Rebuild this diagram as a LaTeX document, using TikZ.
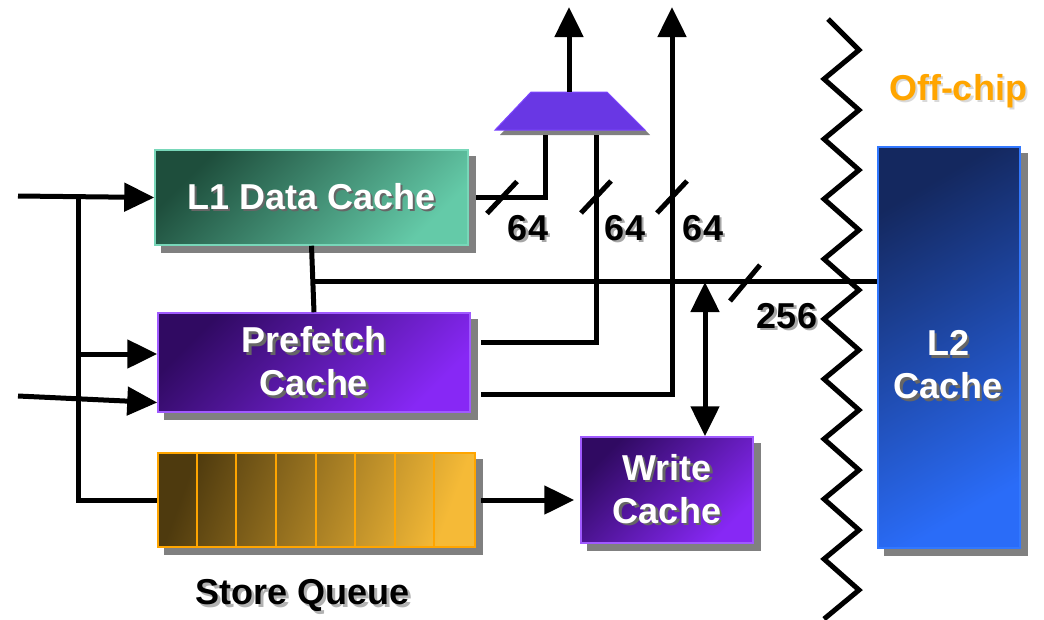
\documentclass[tikz,border=0pt]{standalone}
\usepackage{fontspec}
\setmainfont{Liberation Sans}
\usepackage{xcolor}
\usepackage{tikz}
\usetikzlibrary{arrows.meta,backgrounds}
\definecolor{l1dark}{RGB}{30,78,60}
\definecolor{l1light}{RGB}{100,202,168}
\definecolor{l1edge}{RGB}{120,215,185}
\definecolor{pfdark}{RGB}{48,10,98}
\definecolor{pflight}{RGB}{135,40,245}
\definecolor{pfedge}{RGB}{160,90,255}
\definecolor{sqdark}{RGB}{78,58,14}
\definecolor{sqlight}{RGB}{245,186,55}
\definecolor{sqedge}{RGB}{255,165,0}
\definecolor{l2dark}{RGB}{20,40,95}
\definecolor{l2light}{RGB}{42,108,248}
\definecolor{l2edge}{RGB}{50,120,255}
\definecolor{muxfill}{RGB}{105,55,228}
\definecolor{muxedge}{RGB}{125,70,255}
\definecolor{offchip}{RGB}{255,165,0}
% text with a small offset shadow
\newcommand\shd[2][black!60]{\leavevmode\rlap{\kern2.5pt\raisebox{-2.5pt}{\color{#1}#2}}#2}

\begin{document}
\begin{tikzpicture}[x=1pt,y=-1pt,>={Triangle[length=30pt,width=28pt]},font=\fontsize{36}{43}\selectfont\bfseries]
\tikzset{blk/.style={draw,line width=1.5pt,inner sep=0pt,align=center,text=white},
  l1box/.style={blk,draw=l1edge,top color=l1dark,bottom color=l1light,shading angle=45},
  pfbox/.style={blk,draw=pfedge,top color=pfdark,bottom color=pflight,shading angle=45},
  sqbox/.style={blk,draw=sqedge,left color=sqdark,right color=sqlight,shading angle=70},
  l2box/.style={blk,draw=l2edge,top color=l2dark,bottom color=l2light,shading angle=30},
  muxshape/.style={fill=muxfill,draw=muxedge,line width=1pt},
  shadowfill/.style={fill=black!50},
  wire/.style={line width=5pt},
  arr/.style={wire,->},
  busmark/.style={line width=5pt},
  cellline/.style={draw=sqedge,line width=2pt},
  zig/.style={line width=5pt},
  num/.style={inner sep=0pt}}
\useasboundingbox (0,0) rectangle (1044,619);
% blocks
\node[l1box,minimum width=313pt,minimum height=95pt] (l1) at (311.5,197.5) {\shd{L1 Data Cache}};
\node[pfbox,minimum width=312pt,minimum height=99pt] (pf) at (314,362.5) {\shd{Prefetch}\\\shd{Cache}};
\node[sqbox,minimum width=317pt,minimum height=94pt] (sq) at (316.5,500) {};
\foreach \i in {1,...,7}
  \draw[cellline] ([xshift=\i*39.6pt]sq.north west) -- ([xshift=\i*39.6pt]sq.south west);
\node[pfbox,minimum width=172pt,minimum height=106pt] (wc) at (667,490) {\shd{Write}\\\shd{Cache}};
\node[l2box,minimum width=142pt,minimum height=401pt] (l2) at (949,347.5) {};
\node[num,text=white,align=center] (l2txt) at (948,366) {\shd{L2}\\\shd{Cache}};
% mux
\draw[muxshape] (531,92) -- (607,92) -- (645,130) -- (495,130) -- cycle;
\coordinate (muxa) at (545,130);
\coordinate (muxb) at (596,130);
\coordinate (muxo) at (569,92);
\node[num] (sqlbl) at (303,597) {\shd[black!30]{Store Queue}};
\node[num,text=offchip] (off) at (958,92) {\shd[black!15]{Off-chip}};
% shadows
\begin{scope}[on background layer]
\foreach \b in {l1,pf,sq,wc,l2}
  \fill[shadowfill] ([shift={(7pt,-7pt)}]\b.south west) rectangle ([shift={(7pt,-7pt)}]\b.north east);
\fill[shadowfill] (536,97) -- (612,97) -- (650,135) -- (500,135) -- cycle;
\end{scope}
% chip boundary
\draw[zig] (828,19) \foreach \k in {0,...,9} { -- (859,50+60*\k) -- (824,79+60*\k) };
% inputs
\coordinate (in1) at (18,196);
\coordinate (in2) at (18,396);
\coordinate (split) at (78,196);
\coordinate (pfin) at (78,354);
\draw[arr] (in1) -- (l1.west);
\draw[wire] (split) |- (sq.west);
\draw[arr] (pfin) -- (pf.west |- pfin);
\draw[arr] (in2) -- ([yshift=-40pt]pf.west);
\draw[arr,shorten <=5pt,shorten >=6pt] (sq.east) -- (wc.west |- sq.east);
% to the mux and out
\coordinate (out1) at (569,7);
\coordinate (out2) at (672,7);
\draw[wire,shorten <=7pt,shorten >=5pt] (l1.east) -| (muxa);
\draw[wire,shorten <=10pt,shorten >=5pt] ([yshift=20pt]pf.east) -| (muxb);
\draw[arr,shorten <=10pt] ([yshift=-32pt]pf.east) -| (out2);
\draw[arr] (muxo) -- (out1);
\draw[busmark] (502,197.5) ++(-15,16) -- ++(30,-32);
\draw[busmark] (596,197) ++(-15,16) -- ++(30,-32);
\draw[busmark] (672,197) ++(-15,16) -- ++(30,-32);
\node[num] (w1) at (528,229) {\shd[black!35]{64}};
\node[num] (w2) at (625,229) {\shd[black!35]{64}};
\node[num] (w3) at (703,229) {\shd[black!35]{64}};
% bus to L2
\coordinate (bus) at (315,281);
\coordinate (wcbus) at (705,282);
\draw[wire] (l1.south) -- (pf.north);
\draw[wire] (bus) -- (l2.west |- bus);
\draw[arr,<->] (wc.north -| wcbus) -- (wcbus);
\draw[busmark] (745,283) ++(-15,18) -- ++(30,-36);
\node[num] (w4) at (787,317) {\shd[black!35]{256}};
\end{tikzpicture}
\end{document}
